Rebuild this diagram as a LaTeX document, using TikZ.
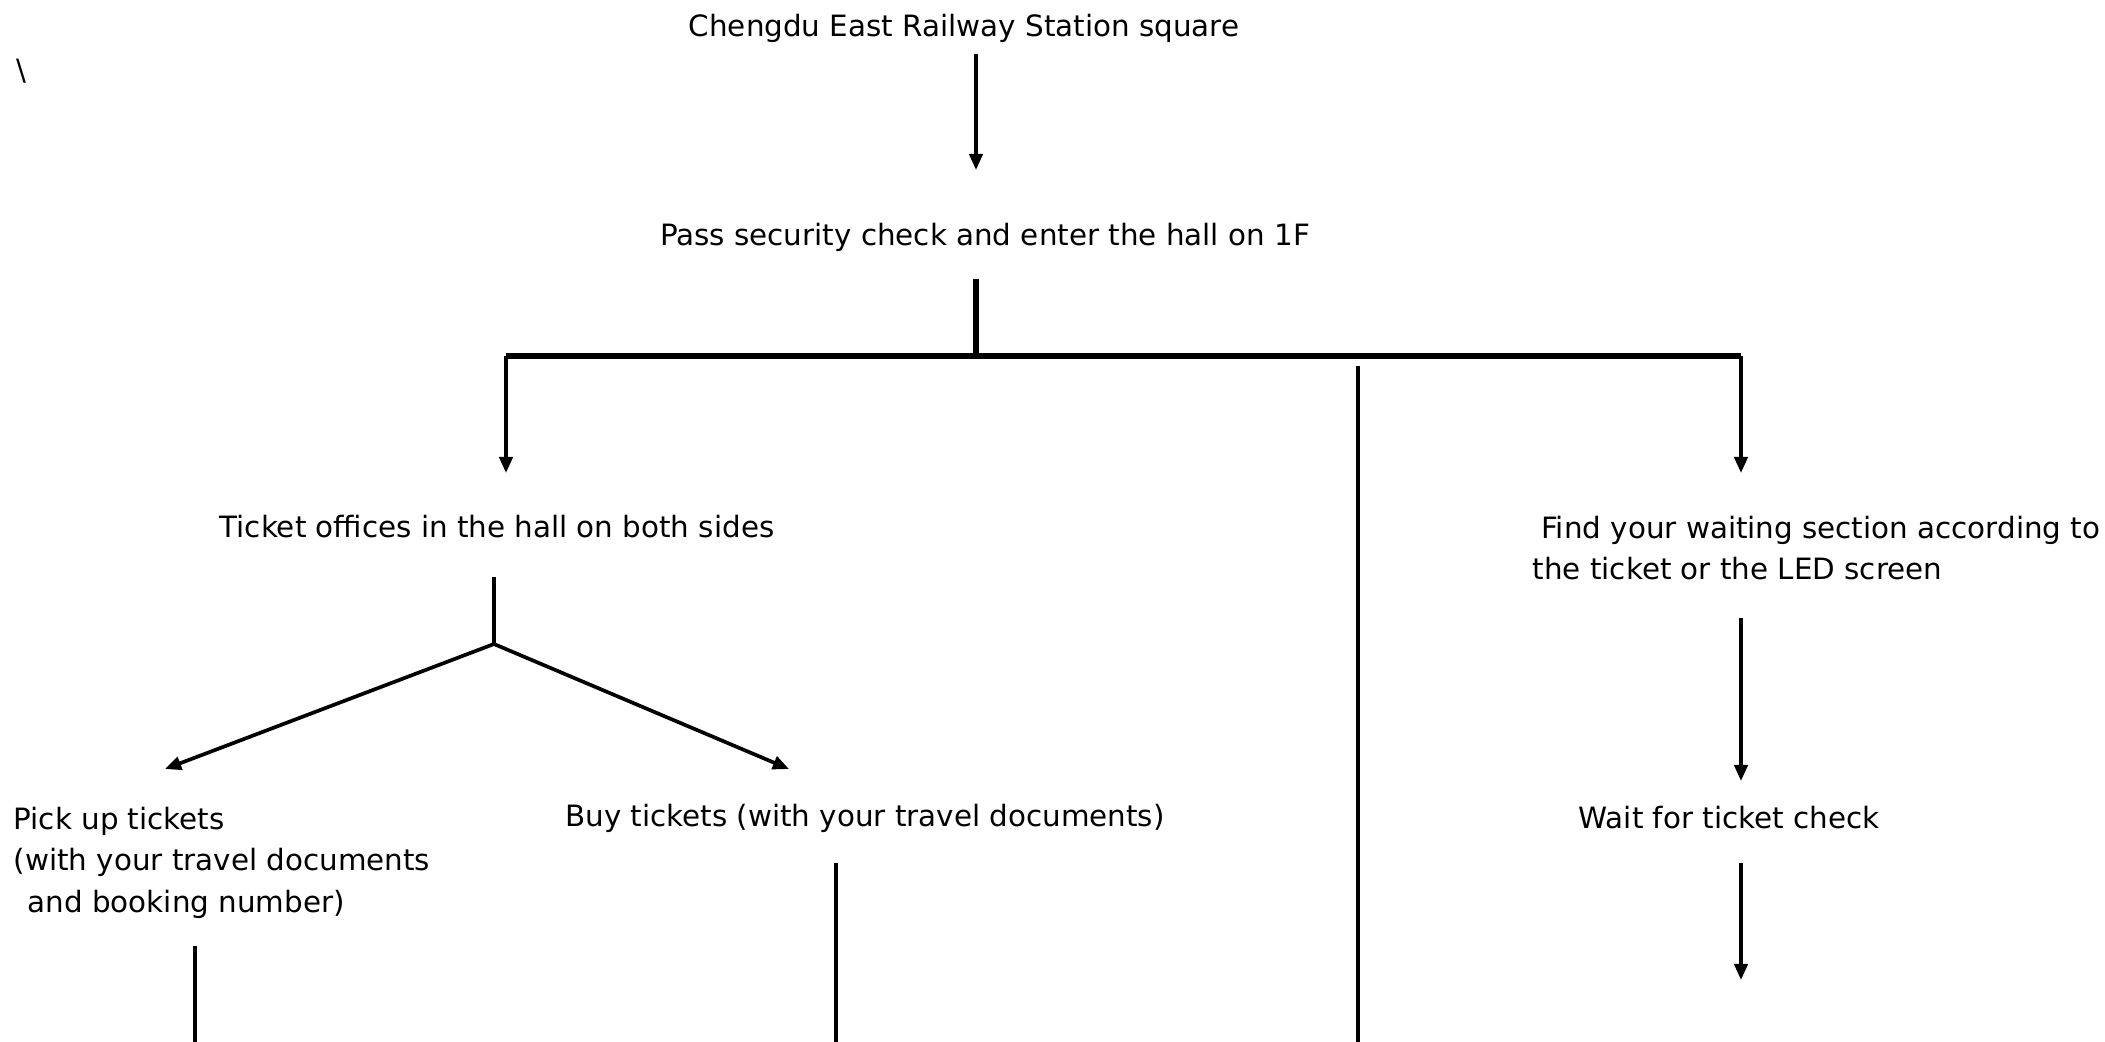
\documentclass[tikz,border=0pt]{standalone}
\usepackage{fontspec}
\setmainfont{DejaVu Sans}
\usetikzlibrary{arrows.meta}

\begin{document}
\begin{tikzpicture}[line cap=butt,line join=round,>={Triangle[length=4.6pt,width=3.8pt]},x=0.01cm,y=-0.01cm,
  every node/.style={font=\fontsize{8.35}{11.8}\selectfont,inner sep=0pt},
  flow/.style={line width=1.05pt},
  bar/.style={line width=1.8pt}]
\useasboundingbox (0,0) rectangle (2105,1042);
\node (slash) at (21,71) {\textbackslash};
\node (square) at (964,28) {Chengdu East Railway Station square};
\node (hall) at (985,237) {Pass security check and enter the hall on 1F};
\node (offices) at (497,527) {Ticket offices in the hall on both sides};
\node[anchor=north west,align=left] (find) at (1532,515) {\hspace*{2.4pt}Find your waiting section according to\\the ticket or the LED screen};
\node[anchor=north west,align=left] (pickup) at (13,806) {Pick up tickets\\(with your travel documents\\\hspace*{4pt}and booking number)};
\node (buy) at (865,818) {Buy tickets (with your travel documents)};
\node (wait) at (1729,818) {Wait for ticket check};
\coordinate (sqOut) at (976,54);
\coordinate (hallIn) at (976,170);
\coordinate (hallOut) at (976,279);
\coordinate (fork) at (976,356);
\coordinate (forkL) at (506,356);
\coordinate (forkR) at (1741,356);
\coordinate (offIn) at (506,473);
\coordinate (findIn) at (1741,473);
\coordinate (midTop) at (1358,366);
\coordinate (midBot) at (1358,1042);
\coordinate (offOut) at (494,577);
\coordinate (split) at (494,644);
\coordinate (pickIn) at (165,769);
\coordinate (buyIn) at (789,769);
\coordinate (pickOut) at (195,946);
\coordinate (pickBot) at (195,1042);
\coordinate (buyOut) at (836,863);
\coordinate (buyBot) at (836,1042);
\coordinate (findOut) at (1741,618);
\coordinate (waitIn) at (1741,781);
\coordinate (waitOut) at (1741,863);
\coordinate (waitEnd) at (1741,980);
% main line
\draw[flow,->] (sqOut) -- (hallIn);
\draw[bar] (hallOut) -- (fork);
\draw[bar] (forkL) -- (forkR);
\draw[flow,->] (forkL) -- (offIn);
\draw[flow,->] (forkR) -- (findIn);
\draw[line width=1.2pt] (midTop) -- (midBot);
% ticket offices
\draw[flow] (offOut) -- (split);
\draw[flow,->] (split) -- (pickIn);
\draw[flow,->] (split) -- (buyIn);
\draw[flow] (pickOut) -- (pickBot);
\draw[flow] (buyOut) -- (buyBot);
% waiting
\draw[flow,->] (findOut) -- (waitIn);
\draw[flow,->] (waitOut) -- (waitEnd);
\end{tikzpicture}
\end{document}
